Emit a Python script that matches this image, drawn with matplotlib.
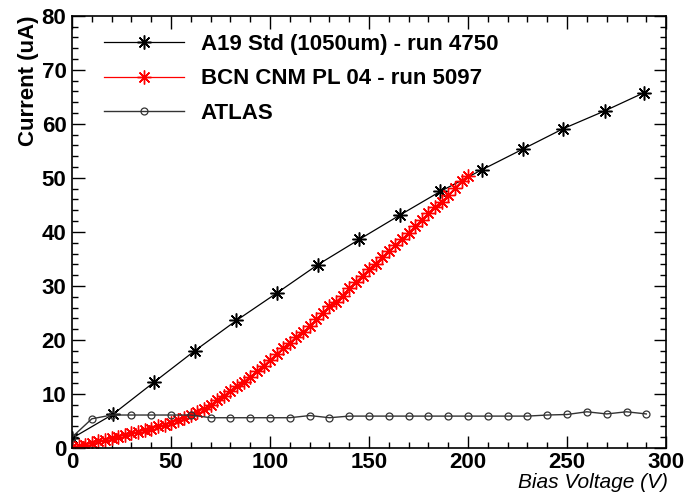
import numpy as np
import matplotlib.pyplot as plt
from matplotlib.ticker import MultipleLocator

plt.rcParams['font.family'] = ['Liberation Sans', 'DejaVu Sans']

# ─── Data ────────────────────────────────────────────────────────────────────
a19_v = [0, 20.5, 41.5, 62, 83, 103.5, 124, 145, 165.5, 186, 207, 227.5, 248, 269, 289]
a19_i = [1.8, 6.2, 12.2, 18.0, 23.6, 28.7, 33.9, 38.6, 43.1, 47.5, 51.5, 55.3, 59.1, 62.4, 65.8]

bcn_v = [0.0, 3.3, 6.7, 10.0, 13.3, 16.7, 20.0, 23.3, 26.7, 30.0,
         33.3, 36.7, 40.0, 43.3, 46.7, 50.0, 53.3, 56.7, 60.0, 63.3,
         66.7, 70.0, 73.3, 76.7, 80.0, 83.3, 86.7, 90.0, 93.3, 96.7,
         100.0, 103.3, 106.7, 110.0, 113.3, 116.7, 120.0, 123.3, 126.7, 130.0,
         133.3, 136.7, 140.0, 143.3, 146.7, 150.0, 153.3, 156.7, 160.0, 163.3,
         166.7, 170.0, 173.3, 176.7, 180.0, 183.3, 186.7, 190.0, 193.3, 196.7,
         200.0]
bcn_i = [0.2, 0.4, 0.6, 0.9, 1.2, 1.5, 1.8, 2.1, 2.4, 2.7,
         3.0, 3.3, 3.6, 4.0, 4.3, 4.7, 5.1, 5.6, 6.1, 6.7,
         7.3, 8.0, 8.8, 9.7, 10.6, 11.4, 12.3, 13.2, 14.2, 15.2,
         16.3, 17.4, 18.5, 19.5, 20.6, 21.5, 22.5, 23.8, 25.0, 26.2,
         27.1, 28.2, 29.6, 30.7, 31.9, 33.1, 34.1, 35.4, 36.5, 37.5,
         38.7, 39.8, 41.1, 42.2, 43.5, 44.6, 45.5, 46.8, 48.1, 49.4,
         50.4]

atlas_v = [0, 10, 20, 30, 40, 50, 60, 70, 80, 90, 100, 110, 120, 130, 140,
           150, 160, 170, 180, 190, 200, 210, 220, 230, 240, 250, 260, 270, 280, 290]
atlas_i = [2.0, 5.4, 6.1, 6.1, 6.1, 6.1, 6.1, 5.6, 5.6, 5.6, 5.6, 5.6, 6.0, 5.6, 5.9,
           5.9, 5.9, 5.9, 5.9, 5.9, 5.9, 5.9, 5.9, 5.9, 6.1, 6.2, 6.7, 6.3, 6.7, 6.3]

labels = ['A19 Std (1050um) - run 4750', 'BCN CNM PL 04 - run 5097', 'ATLAS']

# ─── Figure ──────────────────────────────────────────────────────────────────
fig = plt.figure(figsize=(6.86, 4.95), dpi=100)
ax = fig.add_axes([0.105, 0.095, 0.866, 0.873])

star = (8, 2, 0)
ax.plot(a19_v, a19_i, color='black', lw=0.9, marker=star, ms=10, mew=1.1,
        label=labels[0])
ax.plot(bcn_v, bcn_i, color='red', lw=0.9, marker=star, ms=10, mew=1.0,
        label=labels[1])
ax.plot(atlas_v, atlas_i, color='#333333', lw=1.0, marker='o', ms=5,
        mfc='none', mec='#333333', mew=0.9, label=labels[2])

ax.set_xlim(0, 300)
ax.set_ylim(0, 80)
ax.xaxis.set_major_locator(MultipleLocator(50))
ax.xaxis.set_minor_locator(MultipleLocator(10))
ax.yaxis.set_major_locator(MultipleLocator(10))
ax.yaxis.set_minor_locator(MultipleLocator(2))
ax.tick_params(which='both', direction='in', top=True, right=True, width=1.0)
ax.tick_params(which='major', length=9, labelsize=16)
ax.tick_params(axis='x', which='major', pad=3)
ax.tick_params(axis='y', which='major', pad=4)
ax.tick_params(which='minor', length=4.5)
for lab in ax.get_xticklabels() + ax.get_yticklabels():
    lab.set_fontweight('bold')
for sp in ax.spines.values():
    sp.set_linewidth(1.2)

ax.set_xlabel('Bias Voltage (V)', fontsize=15, style='italic', ha='right')
ax.xaxis.set_label_coords(1.003, -0.059)
ax.set_ylabel('Current (uA)', fontsize=16, fontweight='bold', ha='right')
ax.yaxis.set_label_coords(-0.056, 1.0)

leg = ax.legend(loc='upper left', bbox_to_anchor=(0.054, 0.958), frameon=False,
                borderpad=0, borderaxespad=0,
                handlelength=3.6, labelspacing=0.6, handletextpad=0.75,
                prop={'weight': 'bold', 'size': 16})

fig.savefig('out.png', dpi=100)
